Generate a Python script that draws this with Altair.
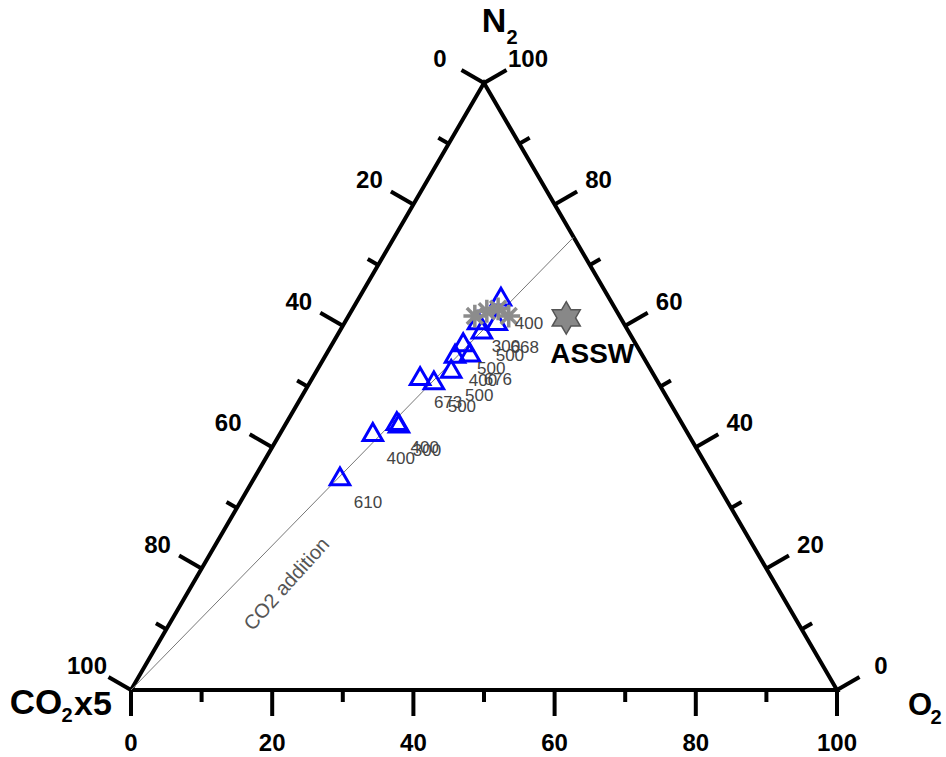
import altair as alt
import pandas as pd

# ---------------- data (percent, CO2 scaled x5) ----------------
sample_co2x5 = [52.8, 44.5, 40.2, 40.1, 33.2, 31.6, 28.2, 26.4, 24.2, 24.3, 20.6, 20.4, 17.8, 15.2]
sample_o2 = [12.0, 13.0, 15.5, 16.0, 15.1, 17.4, 18.9, 18.2, 20.2, 18.4, 20.0, 18.7, 21.4, 20.0]
sample_n2 = [35.2, 42.5, 44.3, 43.9, 51.7, 51.0, 52.9, 55.4, 55.6, 57.3, 59.4, 60.9, 60.8, 64.8]
sample_depth = ["610", "400", "400", "300", "673", "500", "500", "400", "676", "500", "500", "300", "668", "400"]

other_co2x5 = [20.5, 18.4, 16.6, 15.7]
other_o2 = [17.9, 19.2, 20.6, 22.7]
other_n2 = [61.6, 62.4, 62.8, 61.6]

assw_co2x5 = [7.7]
assw_o2 = [31.0]
assw_n2 = [61.3]
assw_label = ["ASSW"]

co2line_co2x5 = [100.0, 0.0]
co2line_o2 = [0.0, 25.4]
co2line_n2 = [0.0, 74.6]
co2line_text = ["CO2 addition"]
co2line_text_pos = [69.2, 13.4, 17.4]  # co2x5, o2, n2

vertex_co2x5 = [100, 0, 0, 100]
vertex_o2 = [0, 100, 0, 0]
vertex_n2 = [0, 0, 100, 0]

major_ticks = [0, 20, 40, 60, 80, 100]
minor_ticks = [10, 30, 50, 70, 90]
tick_labels = ["0", "20", "40", "60", "80", "100"]

# ---------------- geometry helpers ----------------
PX = 706.0   # pixels per unit along x
PY = 607.0   # pixels per unit of N2 fraction along y
xs = alt.Scale(domain=[-131 / PX, 815 / PX], nice=False, zero=False)
ys = alt.Scale(domain=[-67 / PY, 690 / PY], nice=False, zero=False)
FONT = "Liberation Sans"


def tern(df):
    return alt.Chart(df).transform_calculate(
        X="(datum.o2 + datum.n2 / 2) / 100",
        Y="datum.n2 / 100",
    )


def enc(ch, **kw):
    return ch.encode(
        x=alt.X("X:Q", scale=xs, axis=None),
        y=alt.Y("Y:Q", scale=ys, axis=None),
        **kw,
    )


layers = []

# frame
frame_df = pd.DataFrame({"co2": vertex_co2x5, "o2": vertex_o2, "n2": vertex_n2,
                         "i": list(range(len(vertex_n2)))})
layers.append(enc(tern(frame_df).mark_line(color="black", strokeWidth=4, strokeJoin="miter"),
                  order="i:O"))


def axis_df(vals, side):
    if side == "bottom":
        return pd.DataFrame({"co2": [100 - v for v in vals], "o2": vals, "n2": [0] * len(vals)})
    if side == "left":
        return pd.DataFrame({"co2": vals, "o2": [0] * len(vals), "n2": [100 - v for v in vals]})
    return pd.DataFrame({"co2": [0] * len(vals), "o2": [100 - v for v in vals], "n2": vals})


dirs = {"bottom": (0.0, 1.0), "left": (-0.866, -0.5), "right": (0.866, -0.5)}
label_off = {"bottom": (0, 54), "left": (-44, -23), "right": (44, -23)}

for side in ["bottom", "left", "right"]:
    ux, uy = dirs[side]
    for vals, L in [(major_ticks, 26), (minor_ticks, 12)]:
        df = axis_df(vals, side)
        ch = tern(df).transform_calculate(
            X2=f"datum.X + {ux * L / PX}",
            Y2=f"datum.Y - {uy * L / PY}",
        ).mark_rule(color="black", strokeWidth=4)
        layers.append(enc(ch, x2="X2:Q", y2="Y2:Q"))
    df = axis_df(major_ticks, side)
    df["lab"] = tick_labels
    dx, dy = label_off[side]
    layers.append(enc(tern(df).mark_text(font=FONT, fontSize=24, fontWeight="bold",
                                         color="black", dx=dx, dy=dy, baseline="middle"),
                      text="lab:N"))

# CO2 addition line
cl_df = pd.DataFrame({"co2": co2line_co2x5, "o2": co2line_o2, "n2": co2line_n2, "i": [0, 1]})
layers.append(enc(tern(cl_df).mark_line(color="#777777", strokeWidth=1), order="i:O"))
ct_df = pd.DataFrame({"co2": [co2line_text_pos[0]], "o2": [co2line_text_pos[1]],
                      "n2": [co2line_text_pos[2]], "t": co2line_text})
layers.append(enc(tern(ct_df).mark_text(font=FONT, fontSize=20, color="#555555", angle=312,
                                        baseline="middle"), text="t:N"))

# samples
s_df = pd.DataFrame({"co2": sample_co2x5, "o2": sample_o2, "n2": sample_n2, "depth": sample_depth})
layers.append(enc(tern(s_df).mark_point(shape="triangle-up", filled=False, color="#0000ff",
                                        strokeWidth=3, size=380, opacity=1)))

# other (grey) markers
ASTER = "M-1,0L1,0M0,-1L0,1M-0.7,-0.7L0.7,0.7M-0.7,0.7L0.7,-0.7"
o_df = pd.DataFrame({"co2": other_co2x5, "o2": other_o2, "n2": other_n2})
layers.append(enc(tern(o_df).mark_point(shape=ASTER, filled=False, color="#8c8c8c",
                                        strokeWidth=3.5, size=520, opacity=1)))

# sample labels
layers.append(enc(tern(s_df).mark_text(font=FONT, fontSize=17, color="#444444", dx=28, dy=27,
                                       baseline="middle"), text="depth:N"))

# ASSW star
STAR6 = ("M0,-1L0.289,-0.5L0.866,-0.5L0.577,0L0.866,0.5L0.289,0.5L0,1L-0.289,0.5"
         "L-0.866,0.5L-0.577,0L-0.866,-0.5L-0.289,-0.5Z")
a_df = pd.DataFrame({"co2": assw_co2x5, "o2": assw_o2, "n2": assw_n2, "lab": assw_label})
layers.append(enc(tern(a_df).mark_point(shape=STAR6, filled=True, fill="#888888", stroke="#555555",
                                        strokeWidth=1.5, size=1050, opacity=1)))
layers.append(enc(tern(a_df).mark_text(font=FONT, fontSize=28, fontWeight="bold", color="black",
                                       dx=26, dy=37, baseline="middle"), text="lab:N"))

# corner titles (anchored at the vertices)
title_specs = [
    # (co2, o2, n2, text, size, dx, dy)
    (0, 0, 100, "N", 34, 10, -61),
    (0, 0, 100, "2", 20, 28, -45),
    (100, 0, 0, "CO", 35, -95, 13),
    (100, 0, 0, "2", 20, -64, 26),
    (100, 0, 0, "x5", 34, -38, 15),
    (0, 100, 0, "O", 31, 83, 16),
    (0, 100, 0, "2", 20, 99, 28),
]
for co2, o2, n2, t, fs, dx, dy in title_specs:
    tdf = pd.DataFrame({"co2": [co2], "o2": [o2], "n2": [n2], "t": [t]})
    layers.append(enc(tern(tdf).mark_text(font=FONT, fontSize=fs, fontWeight="bold", color="black",
                                          dx=dx, dy=dy, baseline="middle"), text="t:N"))

chart = alt.layer(*layers).properties(
    width=946, height=757, autosize=alt.AutoSizeParams(type="none"), padding=0
).configure_view(stroke=None)

chart.save("out.html", embed_options={"renderer": "svg", "actions": False})
